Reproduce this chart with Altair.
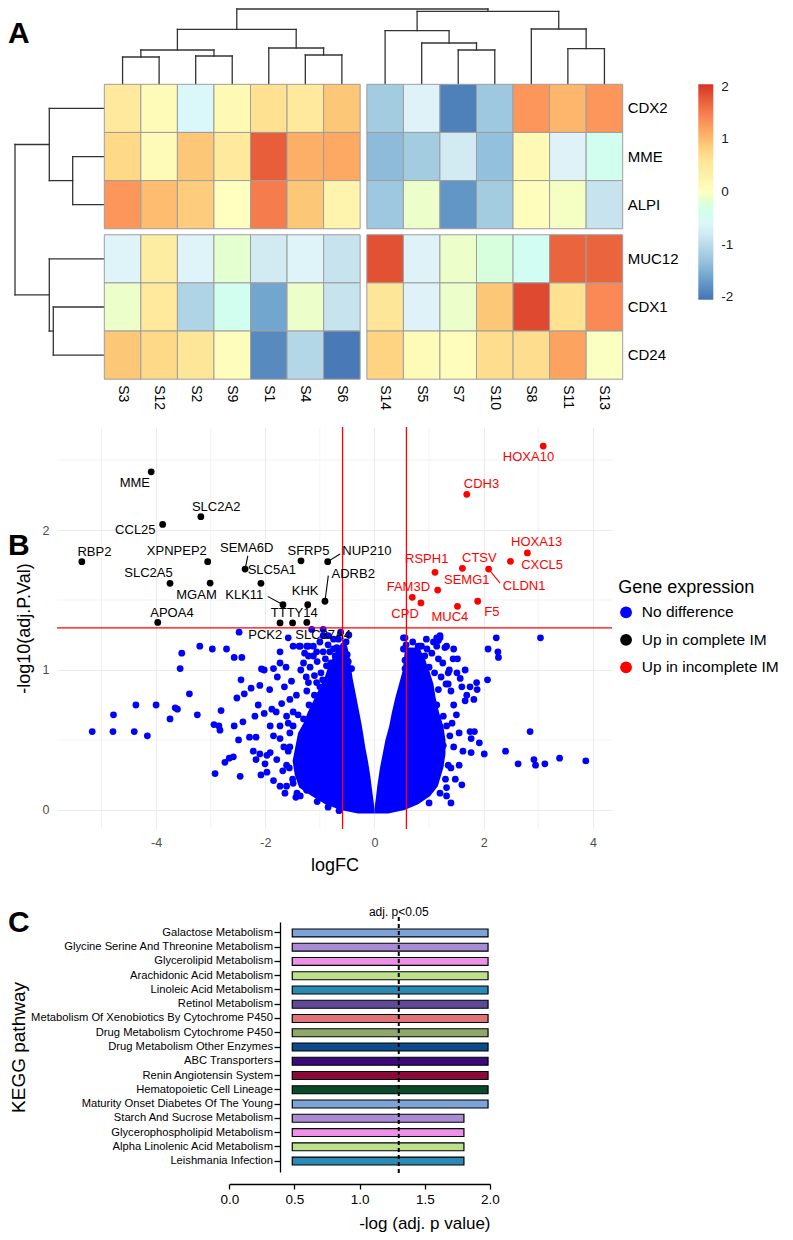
import altair as alt
import pandas as pd

# ======================= Panel A : heatmap data =======================
samples = ["S3", "S12", "S2", "S9", "S1", "S4", "S6",
           "S14", "S5", "S7", "S10", "S8", "S11", "S13"]
genes = ["CDX2", "MME", "ALPI", "MUC12", "CDX1", "CD24"]
z_cdx2 = [0.50, 0.10, -0.60, 0.15, 0.65, 0.50, 0.90, -1.20, -0.70, -1.95, -1.25, 1.30, 1.05, 1.30]
z_mme = [0.75, 0.10, 0.90, 0.50, 1.75, 1.10, 1.15, -1.40, -1.20, -0.80, -1.35, 0.15, -0.70, -0.40]
z_alpi = [1.30, 1.00, 0.85, 0.00, 1.50, 0.90, 0.25, -1.25, -0.10, -1.75, -1.20, 0.05, -0.05, -0.90]
z_muc12 = [-0.65, 0.40, -0.65, -0.15, -0.80, -0.65, -0.90, 1.85, -0.70, -0.10, -0.25, -0.45, 1.70, 1.70]
z_cdx1 = [-0.10, 0.50, -1.10, -0.40, -1.60, -0.10, -0.90, 0.55, -0.70, -0.10, 0.90, 1.90, 0.65, 1.40]
z_cd24 = [0.90, 0.75, 0.55, 0.05, -1.85, -1.05, -2.00, 0.80, 0.10, 0.05, 0.70, 0.70, 1.20, -0.02]
heat_rows = [z_cdx2, z_mme, z_alpi, z_muc12, z_cdx1, z_cd24]
heat_ticks = [-2, -1, 0, 1, 2]
heat_colors = ["#4575B4", "#91BFDB", "#E0F3F8", "#FFFFBF", "#FEE090", "#FC8D59", "#D73027"]

# dendrogram merges: (child, child, merge height); ints refer to earlier merges
col_merges = [("S3", "S12", 27.3), ("S2", "S9", 28.3), (0, 1, 34.3),
              ("S4", "S6", 29.3), ("S1", 3, 36.3), (2, 4, 55.0),
              ("S7", "S10", 34.3), ("S5", 6, 41.3), ("S14", 7, 53.6),
              ("S11", "S13", 35.6), ("S8", 9, 55.3), (8, 10, 73.0), (5, 11, 75.3)]
row_merges = [("MME", "ALPI", 31.6), ("CDX2", 0, 55.0), ("CDX1", "CD24", 51.0),
              ("MUC12", 2, 55.0), (1, 3, 89.3)]

# ======================= Panel B : volcano data =======================
nd_x = [-2.48, -3.20, -2.97, -2.71, -3.53, -2.57, -2.43, -3.56, -2.02, -1.85, -1.73, -1.58, -1.35,
        -2.445, -2.10, -3.39, -4.37, -4.00, -3.65, -3.61, -4.78, -3.745, -3.245, -2.81, -5.17, -4.79,
        -4.40, -4.16, -2.94, -2.83, -2.57, -2.41, -2.52, -2.385, -2.26, -2.13, -2.19, -1.88, -1.91,
        -2.49, -2.29, -2.17, -2.22, -2.10, -1.91, -2.74, -2.585, -2.17, -2.005, -2.92, -2.46, -2.08,
        -1.61, -1.44, -1.25, -2.66, -2.85,
        -1.36, -1.21, -1.12, -0.94, -0.88, -0.75, -0.66, -0.63, -2.02, -1.73, -1.61, -1.49, -1.70,
        -1.55, -1.43, -1.24, -1.21, -1.06, -1.00, -1.49, -1.73, -1.85, -1.55, -1.97, -1.79, -1.61,
        -1.97, -1.85, -1.73, -1.49, -1.36, -1.24,
        -2.07, -1.73, -1.49, -1.38, -1.24, -1.12, -1.15, -0.94, -0.94, -0.85, -0.69, -0.57, -0.50,
        -0.69, -0.51, -0.42, -1.21, -1.06, -0.82, -0.62, -0.47,
        -1.30, -1.18, -1.05, -0.98, -0.90, -0.80, -0.72, -0.65, -0.58, -0.52, -0.55, -0.48, -0.75,
        -0.85, -1.00, -1.28, -0.60, -0.70, -1.10, -1.25,
        -1.55, -1.58, -1.56, -1.50, -1.42, -1.30, -1.40, -1.20, -1.10, -1.00, -0.95, -1.05, -0.85,
        -0.65,
        -1.65, -1.78, -1.62, -1.52, -1.66, -1.68, -1.58, -1.92, -1.80, -1.64,
        2.23, 3.04, 2.08, 2.26, 2.27, 2.07, 1.87, 1.88, 1.82, 1.75, 1.69, 1.66, 1.57, 1.66, 1.37,
        1.31, 1.35, 1.44, 1.20, 1.17, 1.29, 0.83, 0.96, 0.53, 0.53, 0.65, 0.56, 0.56, 2.85, 2.40,
        2.63, 2.92, 2.95, 3.12, 3.39, 3.87, 2.01, 1.92, 1.77, 1.77, 1.83, 1.75, 1.55, 1.35, 1.60,
        1.32, 1.32, 1.17, 1.14, 1.26, 1.32, 1.38, 1.26, 1.20, 1.14,
        0.56, 0.65, 0.80, 0.86, 1.14, 1.20, 1.14, 1.32, 1.17, 1.35, 1.51,
        0.58, 0.62, 0.70, 0.75, 0.78, 0.88, 0.92, 1.00, 1.05, 1.10, 1.25, 1.22, 1.08, 0.70, 0.95,
        1.40, 1.45, 1.42, 1.45, 1.40, 1.30, 1.20, 1.00,
        1.45, 1.52, 1.60, 1.50, 1.55, 1.48, 1.62, 1.40]
nd_y = [1.27, 1.17, 1.15, 1.15, 1.12, 1.09, 1.09, 1.01, 1.00, 1.01, 1.13, 1.23, 1.00,
        0.93, 0.89, 0.83, 0.75, 0.75, 0.73, 0.72, 0.68, 0.65, 0.68, 0.71, 0.56, 0.56,
        0.56, 0.53, 0.61, 0.57, 0.60, 0.63, 0.80, 0.83, 0.87, 0.75, 0.67, 0.72, 0.60,
        0.50, 0.52, 0.52, 0.42, 0.40, 0.41, 0.34, 0.38, 0.36, 0.33, 0.26, 0.24, 0.25,
        0.17, 0.09, 0.15, 0.37, 0.60,
        1.17, 1.17, 1.10, 1.13, 1.03, 1.15, 1.22, 1.15, 0.69, 0.60, 0.67, 0.70, 0.76,
        0.79, 0.82, 0.85, 0.91, 0.91, 0.82, 0.60, 0.51, 0.53, 0.45, 0.39, 0.36, 0.32,
        0.27, 0.21, 0.17, 0.19, 0.10, 0.14,
        1.007, 1.05, 1.17, 1.17, 1.17, 1.17, 1.29, 1.29, 1.245, 1.245, 1.16, 1.17, 1.11,
        1.01, 1.01, 1.01, 1.10, 1.13, 1.13, 1.27, 1.25,
        1.05, 1.02, 1.06, 0.98, 1.08, 1.05, 1.10, 1.05, 1.10, 1.20, 1.02, 1.06, 1.22,
        1.18, 1.20, 1.12, 0.98, 0.96, 0.96, 0.95,
        0.55, 0.42, 0.30, 0.22, 0.12, 0.65, 0.68, 0.75, 0.82, 0.88, 0.93, 0.06, 0.02,
        -0.005,
        0.88, 0.95, 1.02, 0.92, 0.45, 0.28, 0.62, 0.86, 0.70, 0.12,
        1.23, 1.23, 1.15, 1.13, 1.09, 0.93, 0.91, 0.86, 0.79, 0.88, 0.82, 0.78, 0.94, 1.00, 1.00,
        0.90, 0.90, 1.08, 1.23, 1.21, 1.16, 1.17, 1.15, 1.23, 1.15, 1.13, 1.07, 1.01, 0.56, 0.42,
        0.33, 0.36, 0.32, 0.33, 0.37, 0.35, 0.40, 0.48, 0.41, 0.51, 0.56, 0.56, 0.32, 0.32, 0.18,
        0.16, 0.10, 0.86, 0.75, 0.67, 0.60, 0.53, 0.46, 0.32, 0.25,
        1.23, 1.12, 1.17, 1.17, 1.23, 1.245, 1.17, 1.17, 1.08, 0.98, 0.98,
        1.18, 1.05, 1.08, 1.00, 1.13, 1.05, 1.10, 1.02, 1.12, 0.98, 1.05, 0.95, 1.20, 1.20, 1.22,
        0.85, 0.75, 0.62, 0.45, 0.30, 0.22, 0.12, 0.05,
        1.15, 1.08, 0.88, 0.68, 0.55, 0.22, 0.42, 0.05]

# dense part of the cloud, read as its outline (logP level, left edge, right edge)
lobeL_y = [-0.025, 0.00, 0.04, 0.10, 0.16, 0.25, 0.35, 0.45, 0.55, 0.62, 0.70, 0.78, 0.86,
           0.94, 1.02, 1.10, 1.17]
lobeL_a = [-0.30, -0.62, -0.90, -1.15, -1.38, -1.46, -1.50, -1.45, -1.40, -1.30, -1.22, -1.12,
           -1.02, -0.92, -0.85, -0.75, -0.66]
lobeL_b = [0.00, 0.00, -0.01, -0.03, -0.05, -0.08, -0.12, -0.17, -0.21, -0.24, -0.28, -0.32,
           -0.36, -0.40, -0.43, -0.46, -0.50]
lobeR_y = [-0.025, 0.00, 0.04, 0.10, 0.17, 0.30, 0.40, 0.50, 0.60, 0.70, 0.80, 0.90, 1.00,
           1.08, 1.16]
lobeR_a = [0.00, 0.00, 0.01, 0.03, 0.05, 0.10, 0.15, 0.20, 0.27, 0.32, 0.38, 0.45, 0.52,
           0.54, 0.56]
lobeR_b = [0.25, 0.55, 0.80, 1.02, 1.16, 1.26, 1.30, 1.30, 1.26, 1.18, 1.12, 1.08, 1.00,
           0.92, 0.82]

blk_gene = ["MME", "SLC2A2", "CCL25", "RBP2", "XPNPEP2", "SEMA6D", "SFRP5", "NUP210", "SLC2A5",
            "MGAM", "SLC5A1", "KLK11", "KHK", "ADRB2", "TTTY14", "APOA4", "PCK2", "SLC37A4"]
blk_x = [-4.09, -3.18, -3.88, -5.36, -3.055, -2.37, -1.346, -0.857, -3.745,
         -3.01, -2.08, -1.676, -1.223, -0.907, -1.50, -3.97, -1.73, -1.24]
blk_y = [2.416, 2.095, 2.04, 1.774, 1.774, 1.721, 1.78, 1.774, 1.619,
         1.621, 1.619, 1.466, 1.466, 1.491, 1.336, 1.34, 1.336, 1.34]
blk_lx = [-4.39, -2.90, -4.38, -5.13, -3.62, -2.34, -1.21, -0.14, -4.14,
          -3.26, -1.88, -2.385, -1.27, -0.39, -1.47, -3.71, -2.00, -0.94]
blk_ly = [2.336, 2.164, 2.002, 1.845, 1.852, 1.869, 1.852, 1.848, 1.69,
          1.538, 1.716, 1.538, 1.562, 1.686, 1.405, 1.407, 1.25, 1.25]
blk_seg_gene = ["SEMA6D", "NUP210", "KLK11", "ADRB2"]
blk_seg_x = [-2.32, -0.63, -1.956, -0.846]
blk_seg_y = [1.816, 1.829, 1.526, 1.674]

red_gene = ["HOXA10", "CDH3", "HOXA13", "CXCL5", "CTSV", "CLDN1", "RSPH1", "SEMG1",
            "FAM3D", "CPD", "MUC4", "F5"]
red_x = [3.09, 1.69, 2.80, 2.49, 1.61, 2.09, 1.108, 1.157, 0.692, 0.85, 1.52, 1.89]
red_y = [2.60, 2.255, 1.836, 1.776, 1.726, 1.721, 1.698, 1.571, 1.519, 1.479, 1.455, 1.491]
red_lx = [2.82, 1.96, 2.97, 3.07, 1.92, 2.74, 0.956, 1.69, 0.62, 0.56, 1.38, 2.15]
red_ly = [2.519, 2.329, 1.912, 1.75, 1.80, 1.598, 1.793, 1.643, 1.59, 1.40, 1.376, 1.412]
red_seg_gene = ["CLDN1"]
red_seg_x = [2.30]
red_seg_y = [1.621]

groups = ["No difference", "Up in complete IM", "Up in incomplete IM"]
group_colors = ["#0000FF", "#000000", "#FF0000"]
fc_cut = [-0.585, 0.585]
p_cut = [1.301]
x_major = [-4, -2, 0, 2, 4]
x_minor = [-5, -3, -1, 1, 3]
y_major = [0, 1, 2]
y_minor = [0.5, 1.5, 2.5]

# ======================= Panel C : KEGG bars =======================
pathways = ["Galactose Metabolism", "Glycine Serine And Threonine Metabolism",
            "Glycerolipid Metabolism", "Arachidonic Acid Metabolism", "Linoleic Acid Metabolism",
            "Retinol Metabolism", "Metabolism Of Xenobiotics By Cytochrome P450",
            "Drug Metabolism Cytochrome P450", "Drug Metabolism Other Enzymes", "ABC Transporters",
            "Renin Angiotensin System", "Hematopoietic Cell Lineage",
            "Maturity Onset Diabetes Of The Young", "Starch And Sucrose Metabolism",
            "Glycerophospholipid Metabolism", "Alpha Linolenic Acid Metabolism",
            "Leishmania Infection"]
neglog_p = [1.985] * 13 + [1.80] * 4
bar_colors = ["#7BA3D8", "#A98BD4", "#EE90E8", "#BDE08A", "#2A8AB4", "#5E4A96", "#E07278",
              "#8EA86C", "#0E4A8A", "#3A0A7A", "#8A0A3A", "#0A4A2A", "#7BA3D8", "#A98BD4",
              "#EE90E8", "#BDE08A", "#2A8AB4"]
bar_base = 0.483
p_threshold = [1.3]
c_ticks = [0, 0.5, 1.0, 1.5, 2.0]

NEG = "datum.value < 0 ? '-' + abs(datum.value) : '' + datum.value"

# ----------------------- Panel A build -----------------------
X_LEFT = 57.0
CW, RH = 36.55, 48.15
GAPC, GAPR = 6.7 / CW, 6.0 / RH
XA = [-(104.3 - X_LEFT) / CW, 14 + GAPC]
YA = [-(76.3 - 1.0) / RH, 6 + GAPR]
WA = round((XA[1] - XA[0]) * CW, 1)
HA = round((YA[1] - YA[0]) * RH, 1)


def cpos(i):
    return i + (GAPC if i >= 7 else 0.0)


def rpos(j):
    return j + (GAPR if j >= 3 else 0.0)


def dendro(merges, leafpos):
    pos = dict(leafpos)
    hgt = {k: 0.0 for k in leafpos}
    segs = []
    for k, (a, b, h) in enumerate(merges):
        for c in (a, b):
            segs.append((pos[c], hgt[c], pos[c], h))
        segs.append((pos[a], h, pos[b], h))
        pos[k] = (pos[a] + pos[b]) / 2
        hgt[k] = h
    return segs


cells = pd.DataFrame([{"x": cpos(i), "x2": cpos(i) + 1, "y": rpos(j), "y2": rpos(j) + 1,
                       "z": heat_rows[j][i], "gene": g, "sample": s}
                      for j, g in enumerate(genes) for i, s in enumerate(samples)])
cs = dendro(col_merges, {s: cpos(i) + 0.5 for i, s in enumerate(samples)})
df_cd = pd.DataFrame({"x": [s[0] for s in cs], "y": [-s[1] / RH for s in cs],
                      "x2": [s[2] for s in cs], "y2": [-s[3] / RH for s in cs]})
rs = dendro(row_merges, {g: rpos(j) + 0.5 for j, g in enumerate(genes)})
df_rd = pd.DataFrame({"y": [s[0] for s in rs], "x": [-s[1] / CW for s in rs],
                      "y2": [s[2] for s in rs], "x2": [-s[3] / CW for s in rs]})
df_rowlab = pd.DataFrame({"x": [XA[1]] * len(genes), "y": [rpos(j) + 0.5 for j in range(len(genes))],
                          "t": genes})
df_collab = pd.DataFrame({"x": [cpos(i) + 0.5 for i in range(len(samples))],
                          "y": [YA[1]] * len(samples), "t": samples})

sxA = alt.Scale(domain=XA, nice=False, zero=False)
syA = alt.Scale(domain=YA, nice=False, zero=False, reverse=True)
exA = alt.X("x:Q", scale=sxA, axis=None)
eyA = alt.Y("y:Q", scale=syA, axis=None)

heat_dom = [-2.05 + 4.1 * k / 6 for k in range(7)]

a_cd = alt.Chart(df_cd).mark_rule(color="#333333", strokeWidth=1.3, strokeCap="square").encode(
    x=exA, y=eyA, x2="x2:Q", y2="y2:Q")
a_rd = alt.Chart(df_rd).mark_rule(color="#333333", strokeWidth=1.3, strokeCap="square").encode(
    x=exA, y=eyA, x2="x2:Q", y2="y2:Q")
a_heat = alt.Chart(cells).mark_rect(stroke="#9E9E9E", strokeWidth=1).encode(
    x=exA, x2="x2:Q", y=eyA, y2="y2:Q",
    color=alt.Color("z:Q", scale=alt.Scale(domain=heat_dom, range=heat_colors),
                    legend=alt.Legend(orient="none", legendX=641.3, legendY=75.3,
                                      direction="vertical", title=None, gradientLength=215.4,
                                      gradientThickness=15, gradientStrokeWidth=0,
                                      values=heat_ticks, labelFontSize=13.5, labelOffset=8,
                                      labelColor="#1A1A1A", padding=0, labelExpr=NEG,
                                      labelOverlap=False)))
a_rowlab = alt.Chart(df_rowlab).mark_text(align="left", baseline="middle", dx=5, fontSize=15,
                                          color="black").encode(x=exA, y=eyA, text="t:N")
a_collab = alt.Chart(df_collab).mark_text(align="left", baseline="middle", dx=6, angle=90,
                                          fontSize=14, color="black").encode(x=exA, y=eyA, text="t:N")
a_letter = alt.Chart(pd.DataFrame({"t": ["A"]})).mark_text(
    fontSize=30, fontWeight="bold", align="left", baseline="alphabetic", color="black").encode(
    text="t:N", x=alt.value(-49), y=alt.value(33.7))
panelA = alt.layer(a_cd, a_rd, a_heat, a_rowlab, a_collab, a_letter).properties(width=WA, height=HA)

# ----------------------- Panel B build -----------------------
sxB = alt.Scale(domain=[-5.815, 4.35], nice=False, zero=False)
syB = alt.Scale(domain=[-0.136, 2.736], nice=False, zero=False)
axXB = alt.Axis(values=x_major, grid=True, gridColor="#EBEBEB", gridWidth=1.1, domain=False,
                ticks=False, tickSize=0, labelColor="#4D4D4D", labelFontSize=12.5, labelPadding=7,
                labelFlush=False, labelExpr=NEG, title="logFC", titleFontSize=18,
                titleFontWeight="normal", titleColor="black", titlePadding=8)
axYB = alt.Axis(values=y_major, grid=True, gridColor="#EBEBEB", gridWidth=1.1, domain=False,
                ticks=False, tickSize=0, labelColor="#4D4D4D", labelFontSize=12.5, labelPadding=8,
                labelFlush=False, title="-log10(adj.P.Val)", titleFontSize=18,
                titleFontWeight="normal", titleColor="black", titlePadding=9)
exB = alt.X("x:Q", scale=sxB, axis=axXB)
eyB = alt.Y("y:Q", scale=syB, axis=axYB)

pts = pd.DataFrame({
    "x": nd_x + blk_x + red_x,
    "y": nd_y + blk_y + red_y,
    "g": [groups[0]] * len(nd_x) + [groups[1]] * len(blk_x) + [groups[2]] * len(red_x)})
lobes = pd.DataFrame({"y": lobeL_y + lobeR_y, "x": lobeL_a + lobeR_a, "x2": lobeL_b + lobeR_b,
                      "lobe": ["L"] * len(lobeL_y) + ["R"] * len(lobeR_y)})


def seg_df(names, xs, ys, sg, sx, sy):
    rows = []
    for g, ex, ey in zip(sg, sx, sy):
        k = names.index(g)
        rows.append({"x": xs[k], "y": ys[k], "x2": ex, "y2": ey})
    return pd.DataFrame(rows)


b_minx = alt.Chart(pd.DataFrame({"x": x_minor})).mark_rule(color="#EBEBEB", strokeWidth=0.6).encode(x=exB)
b_miny = alt.Chart(pd.DataFrame({"y": y_minor})).mark_rule(color="#EBEBEB", strokeWidth=0.6).encode(y=eyB)
b_area = alt.Chart(lobes).mark_area(orient="horizontal", color="#0000FF", opacity=1).encode(
    y=eyB, x=exB, x2="x2:Q", detail="lobe:N")
b_pts = alt.Chart(pts).mark_circle(size=46, opacity=1).encode(
    x=exB, y=eyB,
    color=alt.Color("g:N", scale=alt.Scale(domain=groups, range=group_colors),
                    legend=alt.Legend(orient="none", legendX=561.3, legendY=151.6,
                                      direction="vertical", title="Gene expression",
                                      titleFontSize=18, titleFontWeight="normal",
                                      titleColor="black", titlePadding=8, labelFontSize=15.5,
                                      labelColor="black", labelOffset=8, symbolSize=140,
                                      symbolType="circle", symbolStrokeWidth=0, rowPadding=10.5,
                                      padding=0, labelLimit=300)))
b_vcut = alt.Chart(pd.DataFrame({"x": fc_cut})).mark_rule(color="#FF0000", strokeWidth=1.3).encode(x=exB)
b_hcut = alt.Chart(pd.DataFrame({"y": p_cut})).mark_rule(color="#FF0000", strokeWidth=1.3).encode(y=eyB)
b_bseg = alt.Chart(seg_df(blk_gene, blk_x, blk_y, blk_seg_gene, blk_seg_x, blk_seg_y)).mark_rule(
    color="black", strokeWidth=1.1).encode(x=exB, y=eyB, x2="x2:Q", y2="y2:Q")
b_rseg = alt.Chart(seg_df(red_gene, red_x, red_y, red_seg_gene, red_seg_x, red_seg_y)).mark_rule(
    color="#FF0000", strokeWidth=1.1).encode(x=exB, y=eyB, x2="x2:Q", y2="y2:Q")
b_blab = alt.Chart(pd.DataFrame({"x": blk_lx, "y": blk_ly, "t": blk_gene})).mark_text(
    fontSize=13, color="black", align="center", baseline="middle").encode(x=exB, y=eyB, text="t:N")
b_rlab = alt.Chart(pd.DataFrame({"x": red_lx, "y": red_ly, "t": red_gene})).mark_text(
    fontSize=13, color="#FF0000", align="center", baseline="middle").encode(x=exB, y=eyB, text="t:N")
b_letter = alt.Chart(pd.DataFrame({"t": ["B"]})).mark_text(
    fontSize=30, fontWeight="bold", align="left", baseline="alphabetic", color="black").encode(
    text="t:N", x=alt.value(-49), y=alt.value(128))
panelB = alt.layer(b_minx, b_miny, b_area, b_pts, b_vcut, b_hcut, b_bseg, b_rseg, b_blab, b_rlab,
                   b_letter).properties(width=555, height=402)

# ----------------------- Panel C build -----------------------
WC, HC = 433, 250
sxC = alt.Scale(domain=[0, 2], range=[229.3 - X_LEFT, WC], nice=False, zero=False)
axXC = alt.Axis(values=c_ticks, format=".1f", offset=12, domainColor="black", domainWidth=1.3,
                tickColor="black", tickWidth=1.3, tickSize=5, labelFontSize=13.5, labelColor="black",
                labelPadding=3, labelFlush=False, grid=False, title="-log (adj. p value)",
                titleFontSize=17, titleFontWeight="normal", titleColor="black", titleAnchor="end",
                titlePadding=10)
exC = alt.X("x:Q", scale=sxC, axis=axXC)

bars = pd.DataFrame({"pathway": pathways, "x": [bar_base] * len(pathways), "x2": neglog_p})
c_bars = alt.Chart(bars).mark_bar(stroke="black", strokeWidth=1.2, opacity=1).encode(
    x=exC, x2="x2:Q",
    y=alt.Y("pathway:N", sort=pathways,
            scale=alt.Scale(paddingInner=0.44, paddingOuter=0.49),
            axis=alt.Axis(offset=-(280 - X_LEFT), domainColor="black", domainWidth=1.3,
                          tickColor="black", tickWidth=1.3, tickSize=6, labelFontSize=11.2,
                          labelColor="black", labelPadding=1.5,
                          labelLimit=400, grid=False, title="KEGG pathway", titleFontSize=19,
                          titleFontWeight="normal", titleColor="black", titleX=-252,
                          titleBaseline="bottom")),
    color=alt.Color("pathway:N", scale=alt.Scale(domain=pathways, range=bar_colors), legend=None))
c_rule = alt.Chart(pd.DataFrame({"x": p_threshold})).mark_rule(
    color="black", strokeWidth=2, strokeDash=[4, 3]).encode(x=exC, y=alt.value(-5), y2=alt.value(HC + 2))
c_text = alt.Chart(pd.DataFrame({"x": p_threshold, "t": ["adj. p<0.05"]})).mark_text(
    fontSize=12, color="black", baseline="alphabetic").encode(x=exC, y=alt.value(-6.5), text="t:N")
c_letter = alt.Chart(pd.DataFrame({"t": ["C"]})).mark_text(
    fontSize=30, fontWeight="bold", align="left", baseline="alphabetic", color="black").encode(
    text="t:N", x=alt.value(-49), y=alt.value(10.3))
panelC = alt.layer(c_bars, c_rule, c_text, c_letter).properties(width=WC, height=HC)

lower = alt.vconcat(panelB, panelC, spacing=93, bounds="flush").resolve_scale(color="independent")
chart = alt.vconcat(panelA, lower, spacing=47, bounds="flush", padding=0).resolve_scale(
    color="independent").configure(font="Liberation Sans").configure_view(strokeWidth=0)

chart.save("out.html", embed_options={"renderer": "svg", "actions": False})
